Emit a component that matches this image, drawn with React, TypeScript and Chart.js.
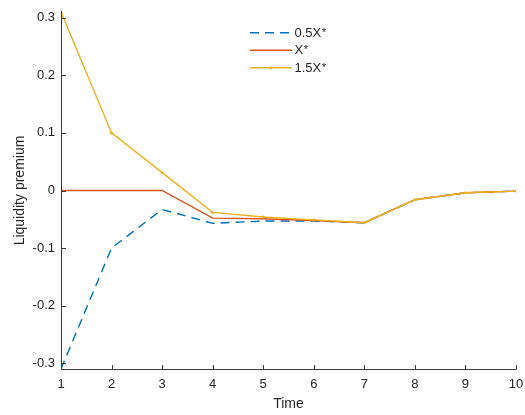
import React, { useEffect, useRef } from "react";
import { Chart, registerables } from "chart.js";

Chart.register(...registerables);

const times = [1, 2, 3, 4, 5, 6, 7, 8, 9, 10];
const halfX = [-0.31, -0.1, -0.033, -0.057, -0.053, -0.053, -0.056, -0.016, -0.004, -0.001];
const baseX = [0, 0, 0, -0.048, -0.049, -0.052, -0.056, -0.016, -0.004, -0.001];
const onehalfX = [0.31, 0.1, 0.031, -0.038, -0.046, -0.051, -0.056, -0.016, -0.004, -0.001];
const seriesNames = ["0.5X", "X", "1.5X"];
const yTicks = [-0.3, -0.2, -0.1, 0, 0.1, 0.2, 0.3];
const xTicks = [1, 2, 3, 4, 5, 6, 7, 8, 9, 10];
const xTitle = "Time";
const yTitle = "Liquidity premium";

const COLORS = ["#0072BD", "#D95319", "#EDB120"];
const FONT = "'Liberation Sans', Arial, Helvetica, sans-serif";
const AXIS = "#262626";

const matlabPlugin = {
  id: "matlabAxes",
  afterDraw(chart: any) {
    const { ctx, chartArea, scales } = chart;
    const { left, right, top, bottom } = chartArea;
    const x = scales.x;
    const y = scales.y;
    ctx.save();
    ctx.strokeStyle = "#3a3a3a";
    ctx.lineWidth = 1;
    ctx.beginPath();
    const L = Math.round(left) + 0.5;
    const B = Math.round(bottom) + 0.5;
    ctx.moveTo(L, top - 1);
    ctx.lineTo(L, B);
    ctx.lineTo(right, B);
    yTicks.forEach((v) => {
      const py = Math.round(y.getPixelForValue(v)) + 0.5;
      ctx.moveTo(L, py);
      ctx.lineTo(L + 4.5, py);
    });
    xTicks.forEach((v) => {
      const px = Math.round(x.getPixelForValue(v)) + 0.5;
      ctx.moveTo(px, B);
      ctx.lineTo(px, B - 4.5);
    });
    ctx.stroke();

    // axis titles
    ctx.fillStyle = AXIS;
    ctx.font = `14px ${FONT}`;
    ctx.textAlign = "center";
    ctx.textBaseline = "middle";
    ctx.fillText(xTitle, (left + right) / 2, 404);
    ctx.save();
    ctx.translate(20, (top + bottom) / 2);
    ctx.rotate(-Math.PI / 2);
    ctx.fillText(yTitle, 0, 0);
    ctx.restore();

    // legend
    const lx0 = 250;
    const lx1 = 292;
    seriesNames.forEach((name, i) => {
      const ry = 32.7 + i * 17.5;
      ctx.save();
      ctx.strokeStyle = COLORS[i];
      ctx.lineWidth = 1.4;
      if (i === 0) ctx.setLineDash([9, 6]);
      ctx.beginPath();
      ctx.moveTo(lx0, ry);
      ctx.lineTo(lx1, ry);
      ctx.stroke();
      ctx.restore();
      if (i === 2) {
        ctx.fillStyle = COLORS[i];
        ctx.beginPath();
        ctx.arc((lx0 + lx1) / 2, ry, 1.5, 0, Math.PI * 2);
        ctx.fill();
      }
      ctx.fillStyle = AXIS;
      ctx.textAlign = "left";
      ctx.textBaseline = "middle";
      ctx.font = `13px ${FONT}`;
      ctx.fillText(name, 294.5, ry + 0.5);
      const w = ctx.measureText(name).width;
      ctx.font = `11px ${FONT}`;
      ctx.textBaseline = "alphabetic";
      ctx.fillText("*", 294.5 + w + 0.5, ry + 3);
    });
    ctx.restore();
  },
};

export default function App() {
  const ref = useRef<HTMLCanvasElement | null>(null);
  useEffect(() => {
    if (!ref.current) return;
    const mk = (vals: number[]) => times.map((t, i) => ({ x: t, y: vals[i] }));
    const chart = new Chart(ref.current, {
      type: "line",
      data: {
        datasets: [
          {
            label: seriesNames[0],
            data: mk(halfX),
            borderColor: COLORS[0],
            borderWidth: 1.4,
            borderDash: [9, 6],
            pointRadius: 0,
            order: 3,
          },
          {
            label: seriesNames[1],
            data: mk(baseX),
            borderColor: COLORS[1],
            borderWidth: 1.4,
            pointRadius: 0,
            order: 2,
          },
          {
            label: seriesNames[2],
            data: mk(onehalfX),
            borderColor: COLORS[2],
            backgroundColor: COLORS[2],
            borderWidth: 1.4,
            pointRadius: 1.5,
            pointBorderWidth: 0,
            order: 1,
          },
        ],
      },
      options: {
        animation: false,
        responsive: false,
        events: [],
        layout: { padding: { top: 12, right: 9, left: 0, bottom: 0 } },
        plugins: { legend: { display: false }, tooltip: { enabled: false } },
        scales: {
          x: {
            type: "linear",
            min: 1,
            max: 10,
            grid: { display: false, drawTicks: false },
            border: { display: false },
            afterBuildTicks: (s: any) => {
              s.ticks = xTicks.map((v) => ({ value: v }));
            },
            afterFit: (s: any) => {
              s.height = 46;
              s.paddingLeft = 0;
              s.paddingRight = 0;
            },
            ticks: {
              color: AXIS,
              font: { family: FONT, size: 13 },
              padding: 8,
              maxRotation: 0,
              autoSkip: false,
              callback: (v: any) => String(v),
            },
          },
          y: {
            type: "linear",
            min: -0.31,
            max: 0.31,
            grid: { display: false, drawTicks: false },
            border: { display: false },
            afterBuildTicks: (s: any) => {
              s.ticks = yTicks.map((v) => ({ value: v }));
            },
            afterFit: (s: any) => {
              s.width = 61;
              s.paddingTop = 0;
              s.paddingBottom = 0;
            },
            ticks: {
              color: AXIS,
              font: { family: FONT, size: 13 },
              padding: 6,
              autoSkip: false,
              callback: (v: any) => String(Math.round(Number(v) * 10) / 10),
            },
          },
        },
      },
      plugins: [matlabPlugin],
    });
    return () => chart.destroy();
  }, []);
  return (
    <div style={{ position: "absolute", left: 0, top: 0, width: 525, height: 415, background: "#fff" }}>
      <canvas ref={ref} width={525} height={415} />
    </div>
  );
}
